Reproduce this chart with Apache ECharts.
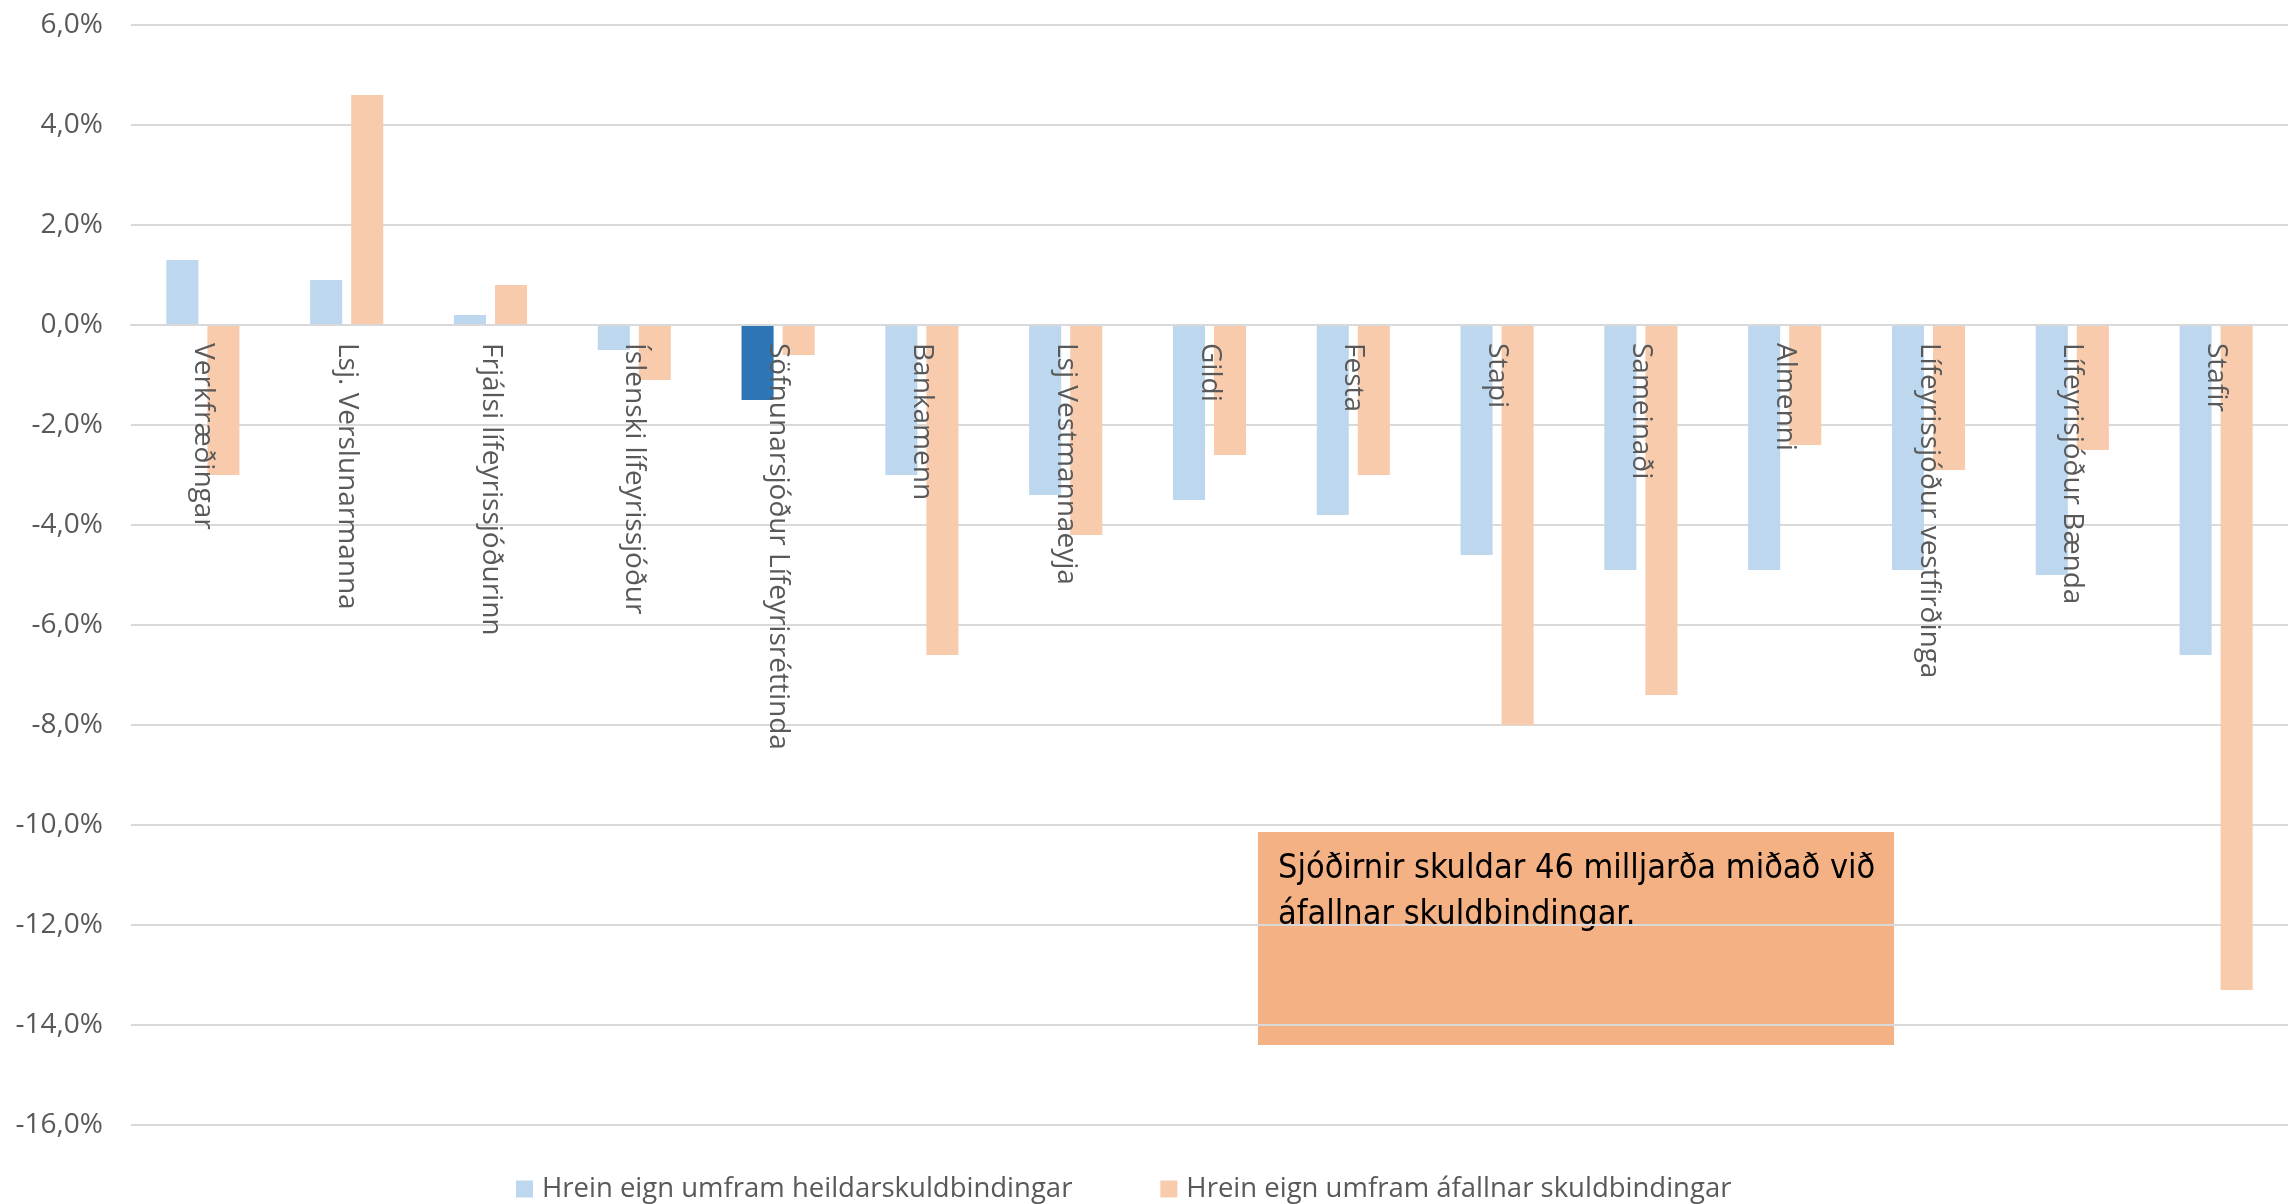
<!DOCTYPE html>
<html><head><meta charset="utf-8">
<script src="https://cdn.jsdelivr.net/npm/echarts@6/dist/echarts.min.js"></script>
<style>html,body{margin:0;padding:0;background:#fff}#c{width:2288px;height:1204px}</style>
</head><body><div id="c"></div>
<script>
const categories = ['Verkfræðingar','Lsj. Verslunarmanna','Frjálsi lífeyrissjóðurinn','Íslenski lífeyrissjóður','Söfnunarsjóður Lífeyrisréttinda','Bankamenn','Lsj Vestmannaeyja','Gildi','Festa','Stapi','Sameinaði','Almenni','Lífeyrissjóður vestfirðinga','Lífeyrisjóður Bænda','Stafir'];
const heildar = [1.3, 0.9, 0.2, -0.5, -1.5, -3.0, -3.4, -3.5, -3.8, -4.6, -4.9, -4.9, -4.9, -5.0, -6.6];
const afallnar = [-3.0, 4.6, 0.8, -1.1, -0.6, -6.6, -4.2, -2.6, -3.0, -8.0, -7.4, -2.4, -2.9, -2.5, -13.3];
const seriesNames = ['Hrein eign umfram heildarskuldbindingar','Hrein eign umfram áfallnar skuldbindingar'];
const highlightIndex = 4;
const yMin = -16, yMax = 6, yInterval = 2;
const noteLines = ['Sjóðirnir skuldar 46 milljarða miðað við','áfallnar skuldbindingar.'];

const FONT = 'Open Sans';
const W = 2288, H = 1204;
const GRID = {left:131, right:0, top:25, bottom:79};
const gridH = H - GRID.top - GRID.bottom;
// place category axis on the zero line
const zeroOffset = -gridH * (0 - yMin) / (yMax - yMin);

const chart = echarts.init(document.getElementById('c'), null, {renderer:'canvas'});
const heildarData = heildar.map((v,i)=> i===highlightIndex ? {value:v, itemStyle:{color:'#2E75B6'}} : v);
chart.setOption({
  animation:false,
  textStyle:{fontFamily:FONT},
  grid:Object.assign({containLabel:false, outerBoundsMode:'none'}, GRID),
  legend:{
    left:511, top:1170, icon:'rect', itemWidth:17, itemHeight:17, itemGap:88,
    textStyle:{fontFamily:FONT, fontSize:27.5, color:'#595959', padding:[0,0,0,4]},
    data:seriesNames
  },
  xAxis:{
    type:'category', data:categories, z:10, position:'bottom', offset:zeroOffset,
    axisLine:{show:true, onZero:false, lineStyle:{color:'#D9D9D9', width:2}},
    axisTick:{show:false},
    axisLabel:{interval:0, rotate:-90, margin:18, fontFamily:FONT, fontSize:28, color:'#595959'},
    splitLine:{show:false}
  },
  yAxis:{
    type:'value', min:yMin, max:yMax, interval:yInterval,
    axisLine:{show:false}, axisTick:{show:false},
    axisLabel:{margin:28, fontFamily:FONT, fontSize:28, color:'#595959',
      formatter:v=>v.toFixed(1).replace('.',',')+'%'},
    splitLine:{lineStyle:{color:'#D9D9D9', width:2}}
  },
  series:[
    {name:seriesNames[0], type:'bar', data:heildarData, barWidth:'22.3%', barGap:'28%', itemStyle:{color:'#BDD7EE'}},
    {name:seriesNames[1], type:'bar', data:afallnar, barWidth:'22.3%', barGap:'28%', itemStyle:{color:'#F8CBAD'}}
  ],
  graphic:[
    {type:'group', left:1258, top:832, children:[
      {type:'rect', shape:{x:0,y:0,width:636,height:213}, style:{fill:'#F4B183'}},
      {type:'text', x:20, y:14, style:{text:noteLines.join('\n'), font:'34px "Liberation Sans Narrow", "DejaVu Sans Condensed", sans-serif', fill:'#000', lineHeight:46}}
    ]}
  ]
});
</script>
</body></html>
